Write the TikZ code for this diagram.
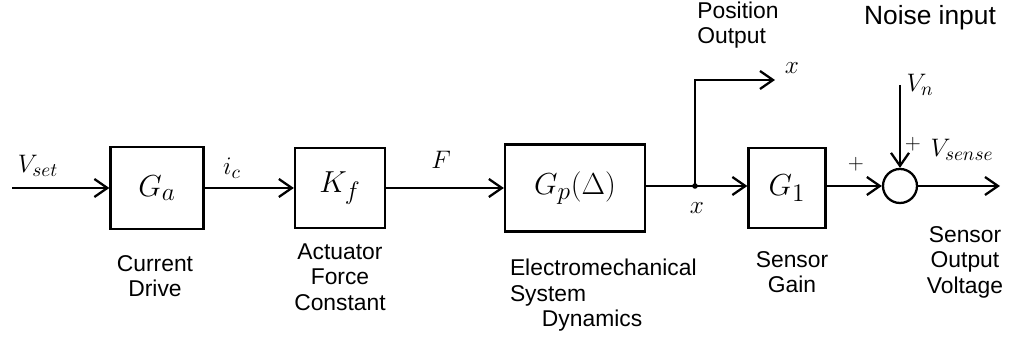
\documentclass[tikz,border=0pt]{standalone}
\usepackage{fontspec}
\setmainfont{Liberation Sans}
\usetikzlibrary{positioning,arrows.meta}

\begin{document}
\begin{tikzpicture}[x=0.02cm,y=-0.02cm,line width=1.3pt,
    blk/.style={draw,line width=1.3pt,font=\fontsize{19}{21}\selectfont},
    sumnode/.style={draw,circle,line width=1.3pt,minimum size=0.68cm,inner sep=0pt},
    sig/.style={-{Straight Barb[length=2.6mm,width=3.6mm,line width=1.3pt]}},
    sigtxt/.style={font=\fontsize{15}{17}\selectfont},
    desc/.style={font=\fontsize{13}{14.5}\selectfont,align=center}]
    \useasboundingbox (0,0) rectangle (1009,350);
    % Forward path blocks
    \node[blk,minimum width=1.86cm,minimum height=1.64cm] (ga) at (157,188) {$G_a$};
    \node[blk,minimum width=1.8cm,minimum height=1.6cm] (kf) at (340,188) {$K_f$};
    \node[blk,minimum width=2.8cm,minimum height=1.74cm] (gp) at (575,188) {$G_p(\Delta)$};
    \node[blk,minimum width=1.54cm,minimum height=1.6cm] (gone) at (787,188) {$G_1$};
    \node[sumnode] (sum) at (900,186) {};
    % Free ends
    \coordinate (vin) at (12,188);
    \coordinate (jn) at (695,186);
    \coordinate (xout) at (775,80);
    \coordinate (vn) at (900,85);
    \coordinate (vout) at (1000,186);
    % Connectors
    \draw[sig] (vin) -- (ga);
    \draw[sig] (ga) -- (kf);
    \draw[sig] (kf) -- (gp);
    \draw (gp.east |- jn) -- (jn);
    \draw[sig] (jn) -- (gone.west |- jn);
    \fill (jn) circle (1.6pt);
    \draw[sig] (jn) |- (xout);
    \draw[sig] (gone.east |- sum) -- (sum);
    \draw[sig] (vn) -- (sum);
    \draw[sig] (sum) -- (vout);
    % Signal names
    \node[sigtxt] (vsetlbl) at (38,166) {$V_{set}$};
    \node[sigtxt] (iclbl) at (232,168) {$i_c$};
    \node[sigtxt] (flbl) at (441,160) {$F$};
    \node[sigtxt] (xlbl) at (697,208) {$x$};
    \node[sigtxt] (xoutlbl) at (792,68) {$x$};
    \node[desc,align=left] (poslbl) at (738,25) {Position\\Output};
    \node[font=\fontsize{15}{17}\selectfont] (noiselbl) at (930,18) {Noise input};
    \node[sigtxt] (vnlbl) at (920,85) {$V_n$};
    \node[font=\fontsize{12}{14}\selectfont] (plusn) at (913,144) {$+$};
    \node[font=\fontsize{12}{14}\selectfont] (plusg) at (856,164) {$+$};
    \node[sigtxt] (vsenselbl) at (962,150) {$V_{sense}$};
    % Block descriptions
    \node[desc] (gadesc) at (155,276) {Current\\Drive};
    \node[desc] (kfdesc) at (340,277) {Actuator\\Force\\Constant};
    \node[desc,align=left,anchor=north west] (gpdesc) at (503,252)
        {Electromechanical\\System\\\hspace*{1.4em}Dynamics};
    \node[desc] (gonedesc) at (792,272) {Sensor\\Gain};
    \node[desc] (sumdesc) at (965,262) {Sensor\\Output\\Voltage};
\end{tikzpicture}
\end{document}
